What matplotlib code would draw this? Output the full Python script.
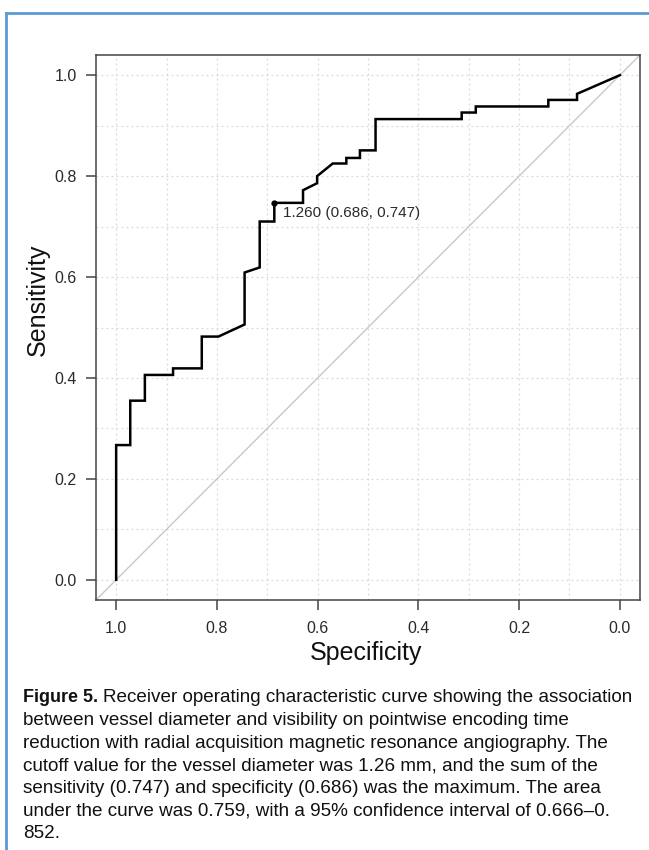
import matplotlib
matplotlib.use('Agg')
import matplotlib.pyplot as plt
from matplotlib.lines import Line2D
import numpy as np

# ROC curve points (specificity, sensitivity)
specificity = [1.0, 1.0, 0.972, 0.972, 0.943, 0.943, 0.887, 0.887, 0.830, 0.830,
               0.797, 0.745, 0.745, 0.715, 0.715, 0.686, 0.686, 0.629, 0.629, 0.601,
               0.601, 0.570, 0.543, 0.543, 0.516, 0.516, 0.485, 0.485, 0.314, 0.314,
               0.286, 0.286, 0.142, 0.142, 0.085, 0.085, 0.0]
sensitivity = [0.0, 0.267, 0.267, 0.355, 0.355, 0.406, 0.406, 0.419, 0.419, 0.482,
               0.482, 0.506, 0.609, 0.619, 0.710, 0.710, 0.747, 0.747, 0.772, 0.786,
               0.800, 0.825, 0.825, 0.836, 0.836, 0.851, 0.851, 0.913, 0.913, 0.926,
               0.926, 0.938, 0.938, 0.951, 0.951, 0.963, 1.0]
cutoff_spec = 0.686
cutoff_sens = 0.747
cutoff_label = "1.260 (0.686, 0.747)"
tick_values = [0.0, 0.2, 0.4, 0.6, 0.8, 1.0]

caption_bold = "Figure 5."
caption_lines = [
    "Receiver operating characteristic curve showing the association",
    "between vessel diameter and visibility on pointwise encoding time",
    "reduction with radial acquisition magnetic resonance angiography. The",
    "cutoff value for the vessel diameter was 1.26 mm, and the sum of the",
    "sensitivity (0.747) and specificity (0.686) was the maximum. The area",
    "under the curve was 0.759, with a 95% confidence interval of 0.666\u20130.",
    "852.",
]

plt.rcParams['font.family'] = ['Liberation Sans', 'DejaVu Sans']
W, H = 649, 850
fig = plt.figure(figsize=(W / 100, H / 100), dpi=100)

ax = fig.add_axes([96 / W, 1 - 600 / H, 544 / W, 545 / H])
ax.set_xlim(1.04, -0.04)
ax.set_ylim(-0.04, 1.04)

# grid every 0.1, dotted
grid_vals = np.round(np.arange(0, 1.01, 0.1), 1)
for g in grid_vals:
    ax.axvline(g, color='#d9d9d9', lw=0.9, ls=(0, (1.5, 2.5)), zorder=0)
    ax.axhline(g, color='#d9d9d9', lw=0.9, ls=(0, (1.5, 2.5)), zorder=0)

# chance diagonal
ax.plot([1.04, -0.04], [-0.04, 1.04], color='#c8c8c8', lw=1.0, zorder=1)

ax.plot(specificity, sensitivity, color='black', lw=1.8, zorder=3,
        solid_joinstyle='miter')
ax.plot([cutoff_spec], [cutoff_sens], 'o', color='black', ms=3.5, zorder=4)
ax.annotate(cutoff_label, (cutoff_spec, cutoff_sens), xytext=(6, -7.5),
            textcoords='offset points', ha='left', va='center',
            fontsize=11, color='#2a2a2a')

ax.set_xticks(tick_values)
ax.set_yticks(tick_values)
ax.set_xticklabels([f"{v:.1f}" for v in tick_values])
ax.set_yticklabels([f"{v:.1f}" for v in tick_values])
ax.tick_params(axis='both', direction='out', length=7, width=1.1,
               color='#444444', labelsize=11.5, labelcolor='#2a2a2a')
ax.tick_params(axis='x', pad=8)
ax.tick_params(axis='y', pad=7)
for s in ax.spines.values():
    s.set_color('#444444')
    s.set_linewidth(1.1)

fig.text(366 / W, 1 - 653 / H, "Specificity", ha='center', va='center',
         fontsize=18, color='#111111')
fig.text(38 / W, 1 - 300 / H, "Sensitivity", ha='center', va='center',
         rotation=90, fontsize=18, color='#111111')

# blue frame on the left and top
blue = '#5b9bd5'
fig.add_artist(Line2D([6 / W, 6 / W], [0, 1 - 13 / H], color=blue, lw=2,
                      transform=fig.transFigure))
fig.add_artist(Line2D([6 / W, 1], [1 - 13 / H, 1 - 13 / H], color=blue, lw=2,
                      transform=fig.transFigure))

# caption
cap_font = ['Liberation Sans', 'DejaVu Sans']
x0 = 23 / W
y_first = 698
spacing = 22.6
bold_txt = fig.text(x0, 1 - y_first / H, caption_bold, ha='left', va='center',
                    fontsize=13, fontweight='bold', family=cap_font,
                    color='#111111')
fig.canvas.draw()
bb = bold_txt.get_window_extent(fig.canvas.get_renderer())
x_rest = (bb.x1 + 5) / W
for i, line in enumerate(caption_lines):
    xx = x_rest if i == 0 else x0
    fig.text(xx, 1 - (y_first + i * spacing) / H, line, ha='left', va='center',
             fontsize=13.6, family=cap_font, color='#111111')

fig.savefig('out.png', dpi=100)
